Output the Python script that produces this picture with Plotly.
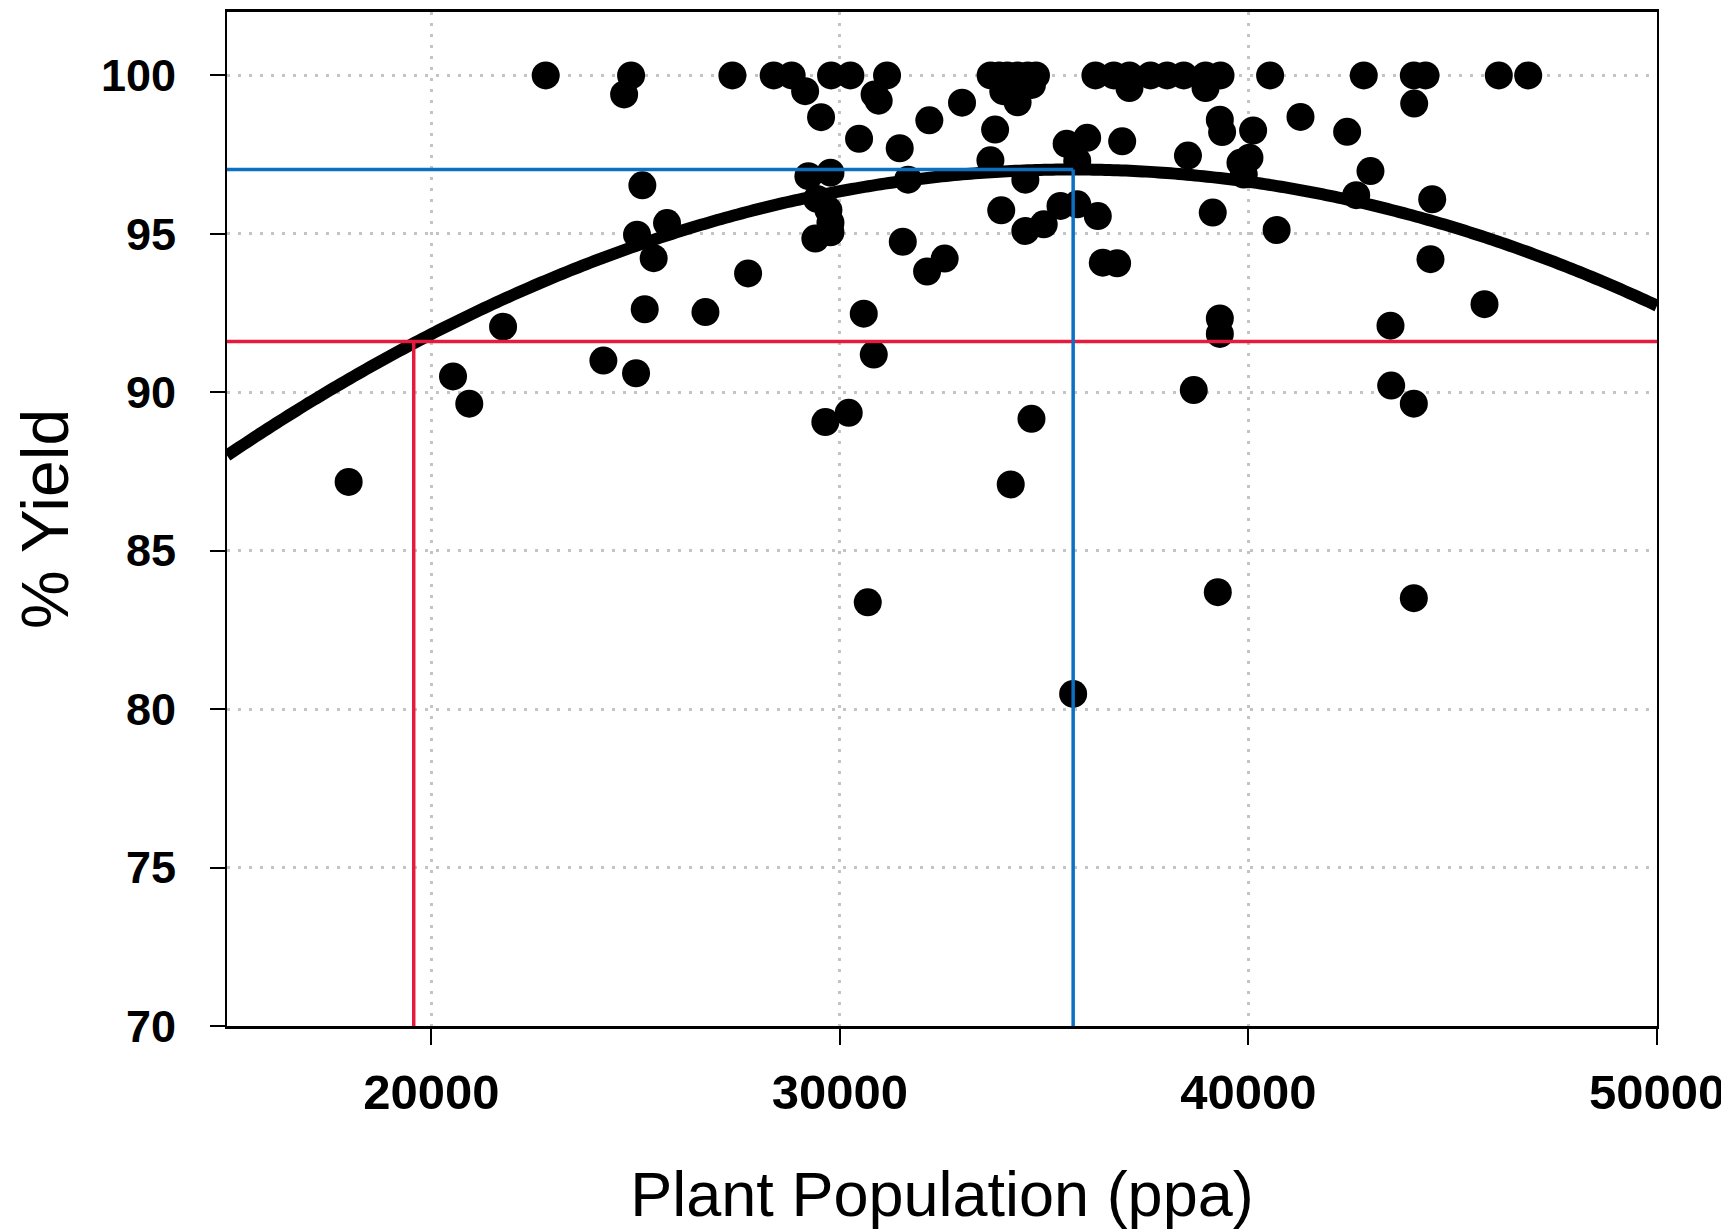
import plotly.graph_objects as go

# ---- data ----
pop = [
    22800, 24890, 24720, 27370, 28380, 28820, 29150, 29785, 30258, 31155,
    30850, 30950, 29540, 30470, 31465, 32190, 32990, 33800, 33685, 34540,
    31670, 25166, 25036, 25770, 25443, 27754, 25224, 26710, 21757, 24212,
    20532, 20930, 25012, 17977, 30585, 30830, 29645, 30217, 31540, 32135,
    32565, 33950, 34540, 34990, 35400, 35810, 36313, 35550, 36053, 35810,
    36910, 36435, 36786, 38520, 39127, 39300, 39356, 40115, 39805, 40025,
    39886, 40690, 41274, 42416, 42987, 42638, 44498, 44456, 45778, 44057,
    43477, 43494, 44048, 39300, 39300, 38662, 34690, 34182, 30683, 35710,
    39250, 44048,
    29230, 29770, 29440, 29720, 29770, 29400, 29770,
    33690, 33900, 34100, 34350, 34600, 34800, 34000, 34350, 34700,
    36255, 36705, 37088, 37602, 38010, 38418, 38950, 39317, 37088, 38950,
    40531, 42823, 44048, 44334, 46128, 46848,
]
yld = [
    100, 100, 99.4, 100, 100, 100, 99.5, 100, 100, 100,
    99.4, 99.2, 98.68, 98.0, 97.7, 98.58, 99.14, 98.29, 97.32, 96.71,
    96.71, 96.53, 94.97, 95.34, 94.23, 93.75, 92.62, 92.53, 92.07, 91.0,
    90.5, 89.64, 90.6, 87.17, 92.48, 91.19, 89.06, 89.35, 94.75, 93.81,
    94.22, 95.74, 95.09, 95.3, 95.88, 95.93, 95.56, 97.84, 98.03, 97.3,
    97.92, 94.09, 94.07, 97.47, 95.67, 98.6, 98.21, 98.26, 97.24, 97.4,
    96.87, 95.12, 98.69, 98.22, 96.98, 96.22, 96.09, 94.2, 92.78, 99.11,
    92.1, 90.21, 89.64, 92.33, 91.84, 90.07, 89.16, 87.09, 83.37, 80.48,
    83.69, 83.5,
    96.82, 96.93, 96.1, 95.75, 95.35, 94.85, 95.05,
    100, 100, 100, 100, 100, 100, 99.5, 99.15, 99.7,
    100, 100, 100, 100, 100, 100, 100, 100, 99.6, 99.6,
    100, 100, 100, 100, 100, 100,
]

# quadratic response fit: yield = peak - k * (pop - opt)^2
fit_peak_yield = 97.03
fit_opt_pop = 35710
fit_k = 2.105e-8
curve_pop = [15000 + 100 * i for i in range(351)]

# reference markers
opt_pop, opt_yield = 35710, 97.03      # blue: optimum
low_pop, low_yield = 19570, 91.6       # red: lower threshold

x_ticks = [20000, 30000, 40000, 50000]
x_tick_text = ["20000", "30000", "40000", "50000"]
y_ticks = [70, 75, 80, 85, 90, 95, 100]
y_tick_text = ["70", "75", "80", "85", "90", "95", "100"]
x_range = [15000, 50000]
y_range = [70, 102]

curve_y = [fit_peak_yield - fit_k * (p - fit_opt_pop) ** 2 for p in curve_pop]

RED = "#E41B3D"
BLUE = "#0B70C2"

fig = go.Figure()
fig.add_trace(go.Scatter(
    x=pop, y=yld, mode="markers",
    marker=dict(color="black", size=28, line=dict(width=0)),
    showlegend=False, hoverinfo="x+y"))
fig.add_trace(go.Scatter(
    x=curve_pop, y=curve_y, mode="lines",
    line=dict(color="black", width=12, simplify=False),
    showlegend=False))
# red lines
fig.add_trace(go.Scatter(
    x=[x_range[0], x_range[1]], y=[low_yield, low_yield], mode="lines",
    line=dict(color=RED, width=3.5), showlegend=False))
fig.add_trace(go.Scatter(
    x=[low_pop, low_pop], y=[y_range[0], low_yield], mode="lines",
    line=dict(color=RED, width=3.5), showlegend=False))
# blue lines
fig.add_trace(go.Scatter(
    x=[x_range[0], opt_pop], y=[opt_yield, opt_yield], mode="lines",
    line=dict(color=BLUE, width=3.5), showlegend=False))
fig.add_trace(go.Scatter(
    x=[opt_pop, opt_pop], y=[y_range[0], opt_yield], mode="lines",
    line=dict(color=BLUE, width=3.5), showlegend=False))

fig.update_layout(
    width=1721, height=1221,
    margin=dict(l=219, r=72, t=1, b=203),
    paper_bgcolor="white", plot_bgcolor="white",
    font=dict(family="Liberation Sans, Arial, sans-serif", color="black"),
)
fig.update_xaxes(
    range=x_range, tickvals=x_ticks, ticktext=x_tick_text,
    showline=True, linecolor="black", linewidth=3, mirror=True,
    ticks="outside", ticklen=16, tickwidth=2, tickcolor="black",
    tickfont=dict(size=49, family="Liberation Sans, Arial", weight="bold"),
    ticklabelstandoff=5,
    showgrid=True, gridcolor="#c4c4c4", gridwidth=3, griddash="3px,8px",
    zeroline=False,
    title=dict(text="Plant Population (ppa)", font=dict(size=63), standoff=56),
)
fig.update_yaxes(
    range=y_range, tickvals=y_ticks, ticktext=y_tick_text,
    showline=True, linecolor="black", linewidth=2, mirror=True,
    ticks="outside", ticklen=15, tickwidth=2, tickcolor="black",
    tickfont=dict(size=45, family="Liberation Sans, Arial", weight="bold"),
    ticklabelstandoff=25,
    showgrid=True, gridcolor="#c4c4c4", gridwidth=3, griddash="3px,8px",
    zeroline=False,
    title=dict(text="% Yield", font=dict(size=66), standoff=27),
)

fig.write_html("out.html")
